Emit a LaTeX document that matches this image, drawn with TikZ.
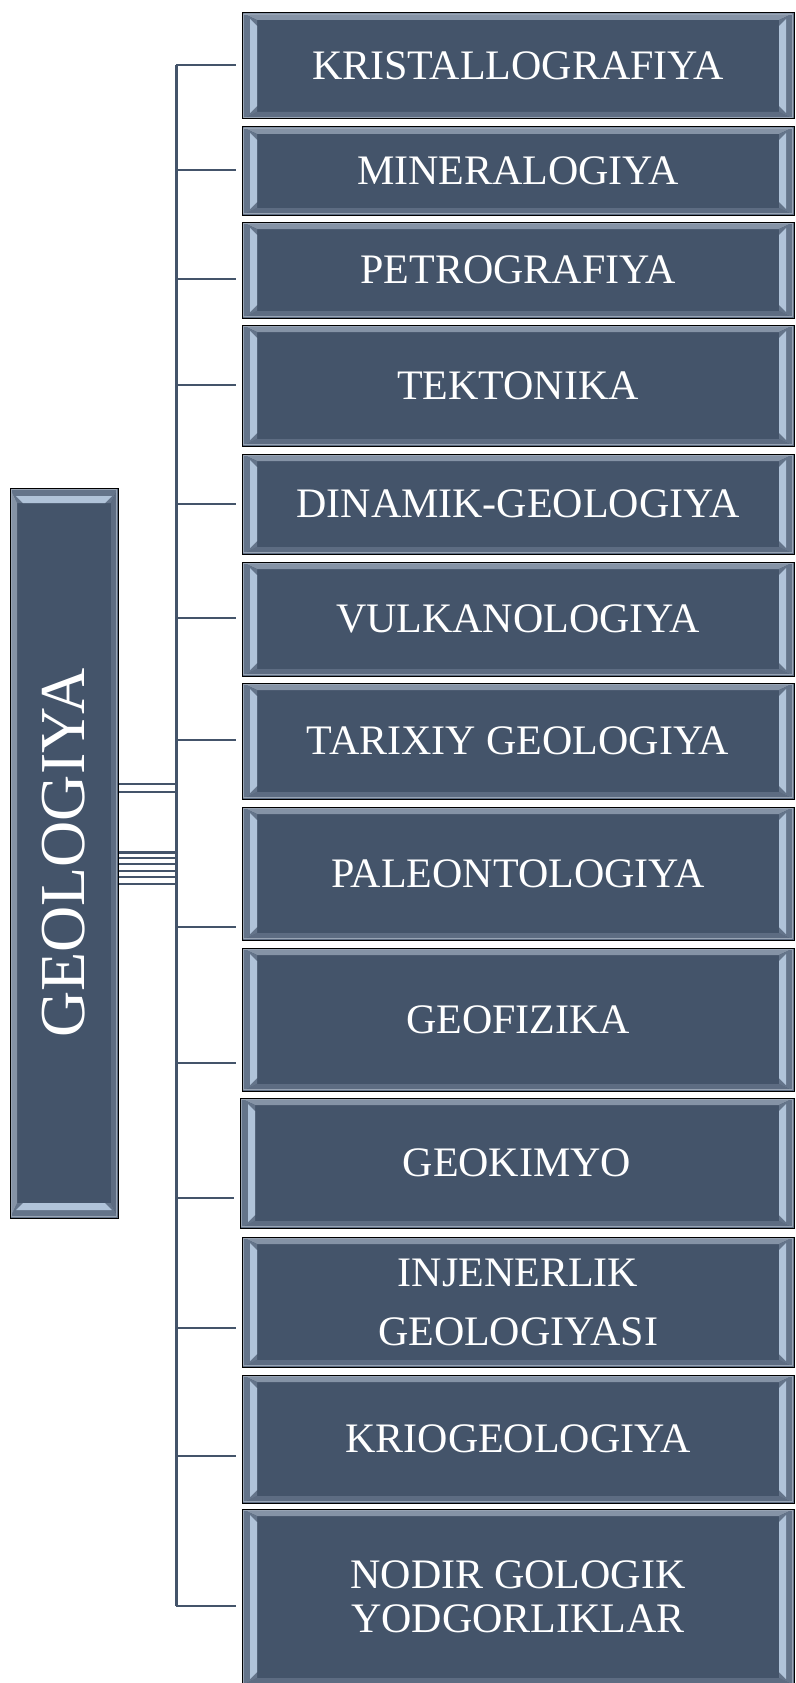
\documentclass[tikz,border=0pt]{standalone}
\usepackage{fontspec}
\setmainfont{Liberation Serif}
\usepackage{graphicx}
\usetikzlibrary{calc}

\definecolor{slate}{HTML}{44546A}
\definecolor{bvTopC}{HTML}{8593A6}
\definecolor{bvBotC}{HTML}{5D6C82}
\definecolor{bvSideC}{HTML}{64748A}
\definecolor{bvLightC}{HTML}{B0C3D9}
\definecolor{bvRingC}{HTML}{98A4B4}

% bevel for a wide box: thick lit bars on the short (left/right) sides
\newcommand\bevelHoriz{%
  \coordinate (bvNW) at (path picture bounding box.north west);
  \coordinate (bvSE) at (path picture bounding box.south east);
  \coordinate (bvNE) at (bvNW -| bvSE);
  \coordinate (bvSW) at (bvNW |- bvSE);
  \fill[bvTopC] (bvNW) -- (bvNE) -- ([shift={(-15,7)}]bvNE) -- ([shift={(15,7)}]bvNW) -- cycle;
  \fill[bvBotC] (bvSW) -- (bvSE) -- ([shift={(-15,-7)}]bvSE) -- ([shift={(15,-7)}]bvSW) -- cycle;
  \fill[bvSideC] (bvNW) -- ([shift={(15,7)}]bvNW) -- ([shift={(15,-7)}]bvSW) -- (bvSW) -- cycle;
  \fill[bvSideC] (bvNE) -- ([shift={(-15,7)}]bvNE) -- ([shift={(-15,-7)}]bvSE) -- (bvSE) -- cycle;
  \fill[bvLightC] ([shift={(8,6)}]bvNW) -- ([shift={(15,13)}]bvNW) -- ([shift={(15,-13)}]bvSW) -- ([shift={(8,-6)}]bvSW) -- cycle;
  \fill[bvLightC] ([shift={(-8,6)}]bvNE) -- ([shift={(-15,13)}]bvNE) -- ([shift={(-15,-13)}]bvSE) -- ([shift={(-8,-6)}]bvSE) -- cycle;
  \draw[bvRingC, line width=0.8pt] ([shift={(1.6,1.6)}]bvNW) rectangle ([shift={(-1.6,-1.6)}]bvSE);
}

% bevel for a tall box: thick lit bars on the short (top/bottom) sides
\newcommand\bevelVert{%
  \coordinate (bvNW) at (path picture bounding box.north west);
  \coordinate (bvSE) at (path picture bounding box.south east);
  \coordinate (bvNE) at (bvNW -| bvSE);
  \coordinate (bvSW) at (bvNW |- bvSE);
  \fill[bvSideC] (bvNW) -- (bvNE) -- ([shift={(-7,15)}]bvNE) -- ([shift={(7,15)}]bvNW) -- cycle;
  \fill[bvSideC] (bvSW) -- (bvSE) -- ([shift={(-7,-15)}]bvSE) -- ([shift={(7,-15)}]bvSW) -- cycle;
  \fill[bvTopC] (bvNW) -- ([shift={(7,15)}]bvNW) -- ([shift={(7,-15)}]bvSW) -- (bvSW) -- cycle;
  \fill[bvBotC] (bvNE) -- ([shift={(-7,15)}]bvNE) -- ([shift={(-7,-15)}]bvSE) -- (bvSE) -- cycle;
  \fill[bvLightC] ([shift={(6,8)}]bvNW) -- ([shift={(-6,8)}]bvNE) -- ([shift={(-13,15)}]bvNE) -- ([shift={(13,15)}]bvNW) -- cycle;
  \fill[bvLightC] ([shift={(6,-8)}]bvSW) -- ([shift={(-6,-8)}]bvSE) -- ([shift={(-13,-15)}]bvSE) -- ([shift={(13,-15)}]bvSW) -- cycle;
  \draw[bvRingC, line width=0.8pt] ([shift={(1.6,1.6)}]bvNW) rectangle ([shift={(-1.6,-1.6)}]bvSE);
}

\tikzset{
  box/.style={draw=black, line width=1pt, fill=slate, text=white,
    inner sep=0pt, align=center, font=\fontsize{42}{50}\selectfont},
  leaf/.style={box, path picture={\bevelHoriz}, minimum width=552pt},
  rootbox/.style={box, path picture={\bevelVert}, minimum width=108pt,
    minimum height=730pt, font=\fontsize{64}{70}\selectfont},
  bus/.style={draw=slate, line width=3pt},
  branch/.style={draw=slate, line width=2.2pt, shorten >=6pt},
  rootlink/.style={draw=slate},
}

\begin{document}
\begin{tikzpicture}[x=1pt, y=-1pt]
  \useasboundingbox (0,0) rectangle (795,1683);
  \fill[white] (0,0) rectangle (795,1683);
  \clip (0,0) rectangle (795,1683);

  % parent
  \node[rootbox] (root) at (64,853) {\rotatebox{90}{GEOLOGIYA}};

  % branches of geology
  \node[leaf, minimum height=106pt] (k1)  at (518,66)    {KRISTALLOGRAFIYA};
  \node[leaf, minimum height=88pt]  (k2)  at (518,171)   {MINERALOGIYA};
  \node[leaf, minimum height=96pt]  (k3)  at (518,270)   {PETROGRAFIYA};
  \node[leaf, minimum height=121pt] (k4)  at (518,385.5) {TEKTONIKA};
  \node[leaf, minimum height=100pt] (k5)  at (518,504)   {DINAMIK-GEOLOGIYA};
  \node[leaf, minimum height=114pt] (k6)  at (518,619)   {VULKANOLOGIYA};
  \node[leaf, minimum height=116pt] (k7)  at (518,741)   {TARIXIY GEOLOGIYA};
  \node[leaf, minimum height=133pt] (k8)  at (518,873.5) {PALEONTOLOGIYA};
  \node[leaf, minimum height=143pt] (k9)  at (518,1019.5){GEOFIZIKA};
  \node[leaf, minimum height=130pt, minimum width=554pt] (k10) at (517,1163) {GEOKIMYO};
  \node[leaf, minimum height=130pt, font=\fontsize{42}{59}\selectfont] (k11) at (518,1302)
    {INJENERLIK\\GEOLOGIYASI};
  \node[leaf, minimum height=128pt] (k12) at (518,1439)  {KRIOGEOLOGIYA};
  \node[leaf, minimum height=176pt, font=\fontsize{42}{44}\selectfont] (k13) at (518,1597)
    {NODIR GOLOGIK\\YODGORLIKLAR};

  % vertical bus
  \coordinate (busTop) at (176,65);
  \coordinate (busBot) at (176,1606);
  \draw[bus] (busTop) -- (busBot);

  % branch connectors
  \foreach \n/\y in {k1/65, k2/170, k3/279, k4/385, k5/504, k6/618, k7/740,
                     k8/927, k9/1063, k10/1198, k11/1328, k12/1456, k13/1606}{
    \coordinate (j\n) at (176,\y);
    \draw[branch] (j\n) -- (\n.west |- j\n);
  }

  % connectors leaving the parent box
  \foreach \y/\w in {784/1.5, 792/1.5, 852/3, 858/1.7, 864/1.7, 871/1.7, 877/1.7, 884/1.7}{
    \coordinate (r\y) at (176,\y);
    \draw[rootlink, line width=\w pt] (root.east |- r\y) -- (r\y);
  }
\end{tikzpicture}
\end{document}
